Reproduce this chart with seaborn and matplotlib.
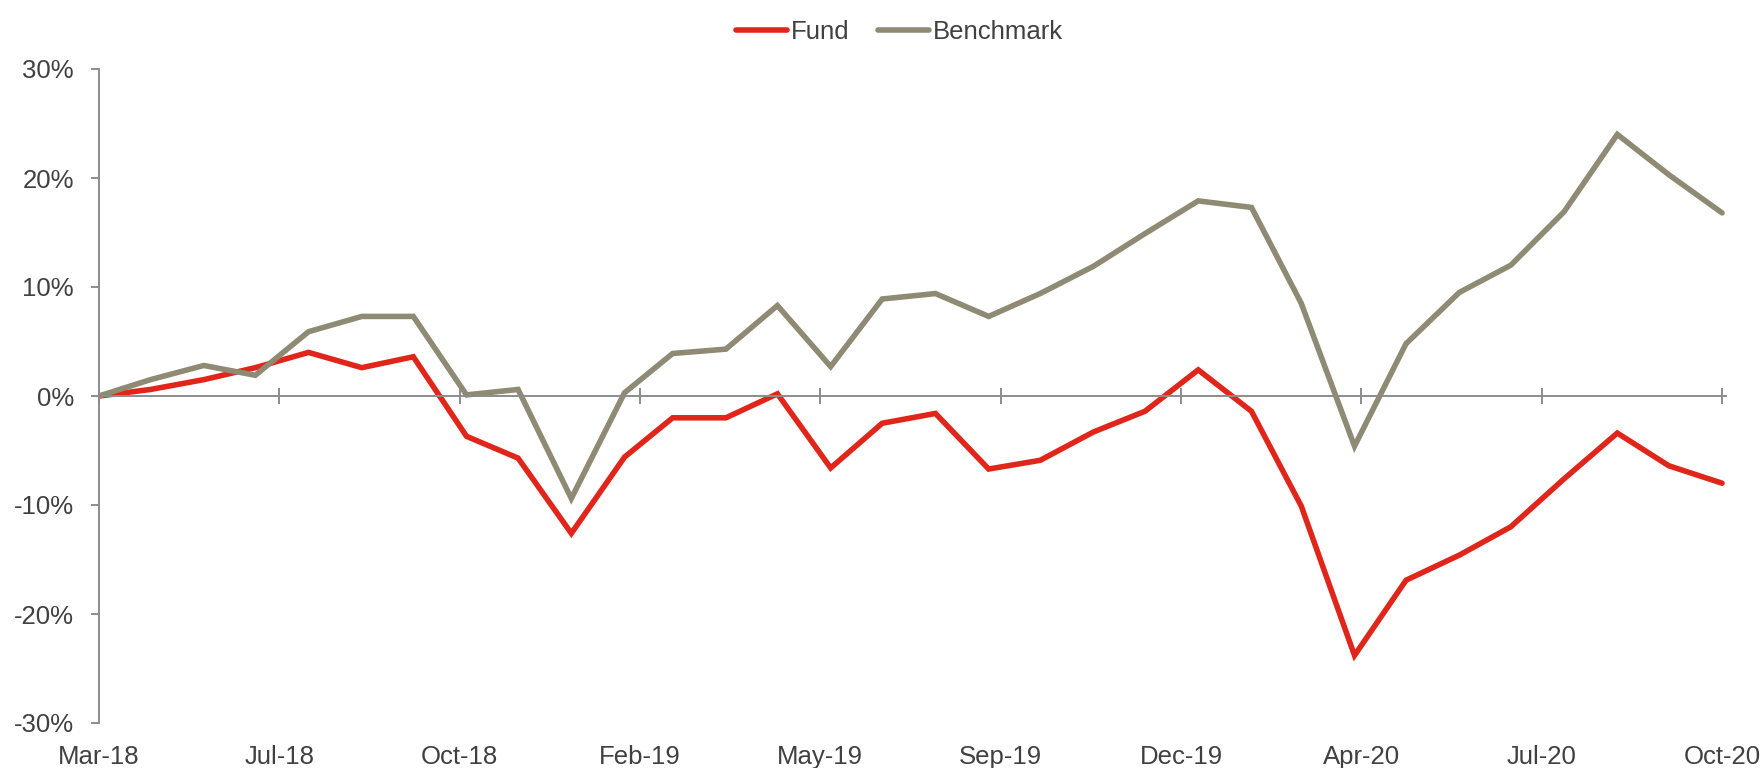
import pandas as pd
import seaborn as sns
import matplotlib.pyplot as plt
import matplotlib.dates as mdates
from matplotlib.ticker import FuncFormatter, MultipleLocator

# datos mensuales (fin de mes), rentabilidad acumulada en %
meses = pd.date_range("2018-03-01", periods=32, freq="MS") + pd.offsets.MonthEnd(0)

fondo = [0.0, 0.6, 1.5, 2.6, 4.0, 2.6, 3.6, -3.7, -5.7, -12.6,
         -5.6, -2.0, -2.0, 0.2, -6.6, -2.5, -1.6, -6.7, -5.9, -3.3, -1.4, 2.4,
         -1.4, -10.1, -23.8, -16.9, -14.6, -12.0, -7.6, -3.4, -6.4, -8.0]
benchmark = [0.0, 1.5, 2.8, 1.9, 5.9, 7.3, 7.3, 0.1, 0.6, -9.4,
             0.3, 3.9, 4.3, 8.3, 2.7, 8.9, 9.4, 7.3, 9.4, 11.9, 14.9, 17.9,
             17.3, 8.5, -4.6, 4.8, 9.5, 12.0, 16.9, 24.0, 20.3, 16.8]

series = ["Fund", "Benchmark"]
colores = ["#E0261B", "#8F8A74"]

df = pd.concat([
    pd.DataFrame({"fecha": meses, "valor": fondo, "serie": "Fund"}),
    pd.DataFrame({"fecha": meses, "valor": benchmark, "serie": "Benchmark"}),
])

sns.set_style("white")
plt.rcParams["font.family"] = ["Liberation Sans", "DejaVu Sans"]
gris = "#8C8C8C"
texto = "#404040"

fig = plt.figure(figsize=(17.62, 7.68), dpi=100)
ax = fig.add_axes([99 / 1762, 1 - 723 / 768, (1725.5 - 99) / 1762, (723 - 69) / 768])

sns.lineplot(data=df, x="fecha", y="valor", hue="serie", hue_order=series,
             palette=colores, linewidth=4.0, ax=ax, legend=True)
for linea in ax.lines:
    linea.set_solid_capstyle("round")
    linea.set_solid_joinstyle("miter")

ax.set_ylim(-30, 30)
ax.yaxis.set_major_locator(MultipleLocator(10))
ax.yaxis.set_major_formatter(FuncFormatter(lambda v, p: f"{v:.0f}%"))
ax.set_xlim(meses[0], meses[-1] + pd.Timedelta(days=2))

ticks = pd.date_range(meses[0], meses[-1], periods=10)
ax.set_xticks(mdates.date2num(ticks))

for lado in ["top", "right"]:
    ax.spines[lado].set_visible(False)
ax.spines["bottom"].set_position(("data", 0))
for lado in ["left", "bottom"]:
    ax.spines[lado].set_color(gris)
    ax.spines[lado].set_linewidth(1.4)

ax.tick_params(axis="x", bottom=True, direction="inout", length=11.5, width=1.4,
               color=gris, labelbottom=False)
ax.tick_params(axis="y", left=True, direction="out", length=6, width=1.4, color=gris,
               labelsize=18.5, labelcolor=texto, pad=12)

# etiquetas del eje x abajo del todo
sec = ax.secondary_xaxis("bottom")
sec.set_xticks(mdates.date2num(ticks))
sec.xaxis.set_major_formatter(mdates.DateFormatter("%b-%y"))
sec.spines["bottom"].set_visible(False)
sec.tick_params(length=0, labelsize=18.5, labelcolor=texto, pad=16)

ax.set_xlabel("")
ax.set_ylabel("")

handles, labels = ax.get_legend_handles_labels()
ax.legend_.remove()
leg = fig.legend(handles, labels, loc="center", bbox_to_anchor=(899.5 / 1762, 1 - 32 / 768),
                 ncol=2, frameon=False, fontsize=18.5, handlelength=2.0,
                 handletextpad=0.15, columnspacing=1.1)
for t in leg.get_texts():
    t.set_color(texto)
for h in leg.legend_handles:
    h.set_solid_capstyle("round")

fig.savefig("out.png", dpi=100)
